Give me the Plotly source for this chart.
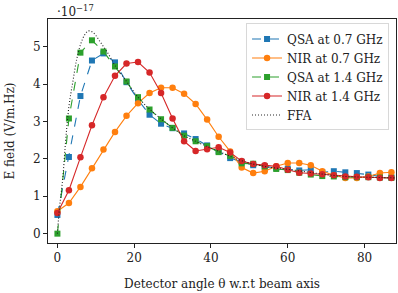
import plotly.graph_objects as go

theta = [0, 3, 6, 9, 12, 15, 18, 21, 24, 27, 30, 33, 36, 39, 42, 45, 48, 51, 54, 57,
         60, 63, 66, 69, 72, 75, 78, 81, 84, 87]

qsa_07 = [0.50, 2.05, 3.68, 4.63, 4.82, 4.58, 4.05, 3.58, 3.18, 2.94, 2.82, 2.68, 2.53, 2.36, 2.20,
          2.02, 1.92, 1.83, 1.79, 1.76, 1.74, 1.69, 1.71, 1.64, 1.67, 1.64, 1.62, 1.58, 1.53, 1.51]
nir_07 = [0.60, 0.82, 1.25, 1.75, 2.25, 2.72, 3.15, 3.49, 3.76, 3.90, 3.90, 3.74, 3.47, 3.05, 2.59,
          2.20, 1.77, 1.62, 1.67, 1.80, 1.89, 1.89, 1.83, 1.67, 1.56, 1.49, 1.49, 1.53, 1.62, 1.64]
qsa_14 = [0.00, 3.08, 4.84, 5.17, 4.87, 4.47, 4.07, 3.65, 3.32, 3.06, 2.83, 2.62, 2.47, 2.34, 2.18,
          2.08, 1.88, 1.87, 1.80, 1.73, 1.70, 1.63, 1.58, 1.54, 1.53, 1.51, 1.51, 1.51, 1.50, 1.49]
nir_14 = [0.55, 1.16, 2.04, 2.90, 3.65, 4.22, 4.55, 4.59, 4.31, 3.76, 3.08, 2.47, 2.21, 2.26, 2.31,
          2.17, 1.94, 1.86, 1.83, 1.80, 1.71, 1.63, 1.61, 1.59, 1.56, 1.53, 1.52, 1.51, 1.49, 1.49]

ffa_theta = [0, 0.5, 1, 1.5, 2, 2.5, 3, 3.5, 4, 5, 6, 7, 8, 9, 10, 11, 12, 13, 14, 15, 18, 21,
             24, 27, 30, 33, 36, 39, 42, 45, 48, 51, 54, 57, 60, 65, 70, 75, 80, 85, 88]
ffa = [0.0, 0.65, 1.1, 1.6, 2.3, 2.9, 3.4, 3.75, 4.05, 4.65, 5.05, 5.3, 5.42, 5.4, 5.3, 5.15,
       5.0, 4.85, 4.68, 4.5, 4.07, 3.65, 3.33, 3.07, 2.83, 2.62, 2.47, 2.33, 2.2, 2.07, 1.95,
       1.86, 1.8, 1.75, 1.72, 1.65, 1.58, 1.53, 1.51, 1.5, 1.49]

x_ticks = [0, 20, 40, 60, 80]
y_ticks = [0, 1, 2, 3, 4, 5]

FONT = "DejaVu Serif"
FS = 12
fig = go.Figure()

fig.add_trace(go.Scatter(x=theta, y=qsa_07, name="QSA at 0.7 GHz", mode="lines+markers",
                         line=dict(color="#1f77b4", width=1.1, dash="dash"),
                         marker=dict(symbol="square", size=6, color="#1f77b4")))
fig.add_trace(go.Scatter(x=theta, y=nir_07, name="NIR at 0.7 GHz", mode="lines+markers",
                         line=dict(color="#ff7f0e", width=1.1),
                         marker=dict(symbol="circle", size=6.5, color="#ff7f0e")))
fig.add_trace(go.Scatter(x=theta, y=qsa_14, name="QSA at 1.4 GHz", mode="lines+markers",
                         line=dict(color="#2ca02c", width=1.1, dash="dash"),
                         marker=dict(symbol="square", size=6, color="#2ca02c")))
fig.add_trace(go.Scatter(x=theta, y=nir_14, name="NIR at 1.4 GHz", mode="lines+markers",
                         line=dict(color="#d62728", width=1.1),
                         marker=dict(symbol="circle", size=6.5, color="#d62728")))
fig.add_trace(go.Scatter(x=ffa_theta, y=ffa, name="FFA", mode="lines",
                         line=dict(color="#222", width=1.1, dash="1px,2px", shape="spline")))

fig.update_layout(
    width=398, height=293,
    margin=dict(l=48, r=2, t=19, b=50),
    paper_bgcolor="white", plot_bgcolor="white",
    font=dict(family=FONT, size=FS, color="#222"),
    showlegend=True,
    legend=dict(x=0.98, y=0.98, xanchor="right", yanchor="top",
                bgcolor="rgba(255,255,255,0.85)", bordercolor="#d8d8d8", borderwidth=1,
                font=dict(family=FONT, size=FS), tracegroupgap=0, itemwidth=30),
    xaxis=dict(range=[-2.45, 88.2], tickvals=x_ticks, showgrid=False, zeroline=False,
               showline=True, linecolor="#222", linewidth=1, mirror=True,
               ticks="outside", ticklen=4, tickcolor="#222", automargin=False,
               title=dict(text="Detector angle θ w.r.t beam axis",
                          font=dict(family=FONT, size=FS))),
    yaxis=dict(range=[-0.25, 5.74], tickvals=y_ticks, showgrid=False, zeroline=False,
               showline=True, linecolor="#222", linewidth=1, mirror=True,
               ticks="outside", ticklen=4, tickcolor="#222", automargin=False,
               title=dict(text="E field (V/m.Hz)", font=dict(family=FONT, size=FS))),
)
fig.add_annotation(text="·10<sup>−17</sup>", xref="paper", yref="paper", x=0, y=1.0,
                   xanchor="left", yanchor="bottom", showarrow=False, xshift=7, yshift=-2,
                   font=dict(family=FONT, size=FS))

fig.write_html("out.html", config={"displayModeBar": False},
               post_script="document.body.style.margin='0';")
